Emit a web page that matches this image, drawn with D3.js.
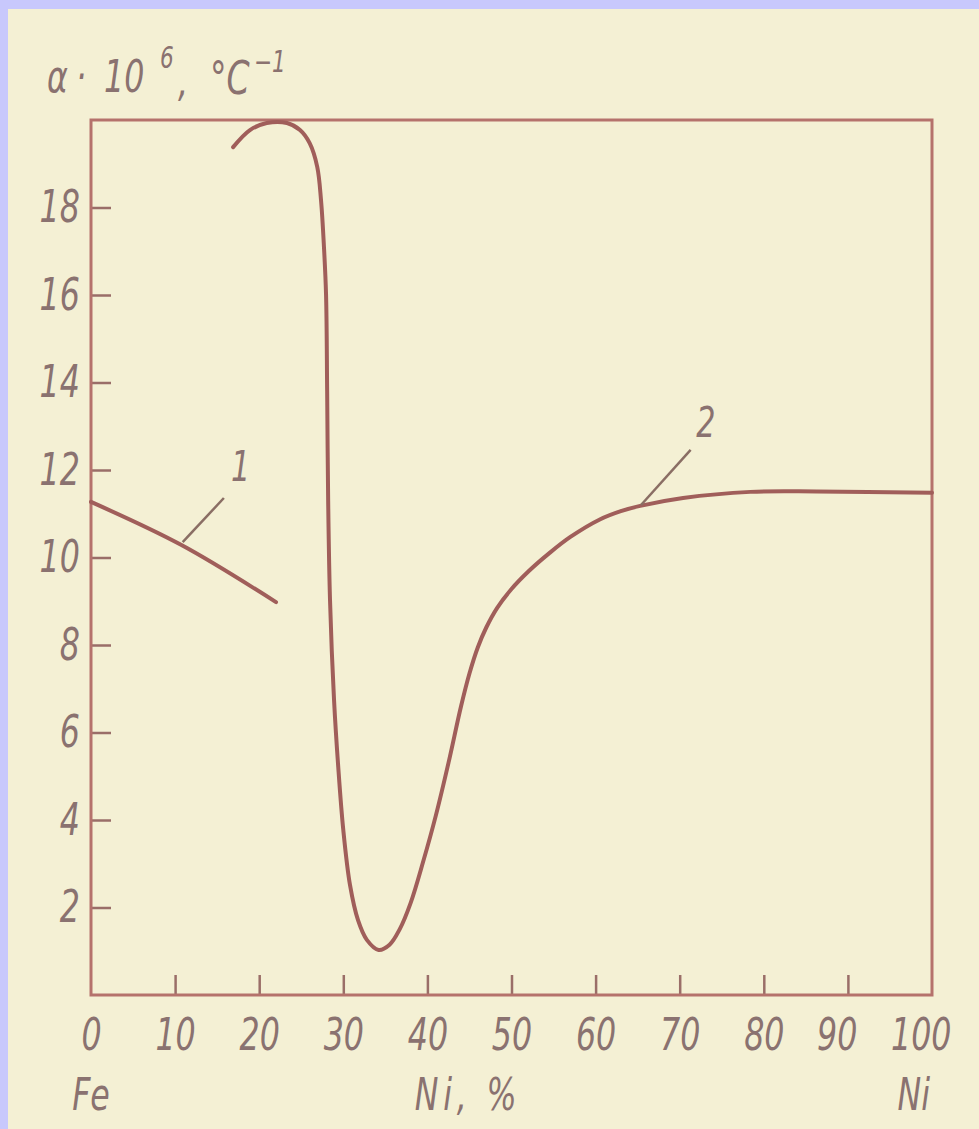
<!DOCTYPE html>
<html>
<head>
<meta charset="utf-8">
<script src="https://cdn.jsdelivr.net/npm/d3@7"></script>
<style>
  html, body { margin: 0; padding: 0; background: #c8c8fc; }
  svg { display: block; }
  .lbl { font-family: "DejaVu Sans Condensed", "DejaVu Sans", sans-serif; font-style: italic; fill: #8a7270; }
</style>
</head>
<body>
<div id="chart-area"></div>
<script>
// ---- data ----
// x: Ni content, %   y: alpha * 10^6, 1/°C
var xTicks = [0, 10, 20, 30, 40, 50, 60, 70, 80, 90, 100];
var yTicks = [2, 4, 6, 8, 10, 12, 14, 16, 18];

// curve 1
var curve1Ni    = [0, 10.7, 22];
var curve1Alpha = [11.27, 10.29, 8.98];

// curve 2 (invar minimum near 34 % Ni)
var curve2Ni    = [16.9, 18.9, 20.9, 23.3, 24.85, 26.0, 26.9, 27.35, 27.7, 27.95, 28.08, 28.2, 28.42,
                   28.9, 29.4, 30.0, 30.8, 31.75, 32.8, 34.2, 35.5, 36.7, 38.0, 39.5, 41.0, 42.5,
                   44.0, 45.0, 46.0, 47.0, 48.3, 50.0, 52.0, 54.5, 57.0, 60.5, 63.0, 65.3, 70.4,
                   78.4, 86.3, 100];
var curve2Alpha = [19.38, 19.77, 19.93, 19.93, 19.77, 19.47, 18.93, 18.17, 17.1, 16.0, 13.8, 11.3, 9.03,
                   6.74, 5.21, 3.77, 2.51, 1.71, 1.26, 1.03, 1.15, 1.5, 2.1, 3.05, 4.1, 5.3,
                   6.6, 7.35, 7.95, 8.4, 8.85, 9.28, 9.68, 10.1, 10.47, 10.87, 11.06, 11.18, 11.36,
                   11.5, 11.51, 11.48];

// curve numbers with their leader lines (data units)
var curveNames = ["1", "2"];
var leaderFrom = [[10.9, 10.35], [65.4, 11.2]];
var leaderTo   = [[15.8, 11.36], [71.3, 12.46]];
var namePos    = [[17.8, 12.1], [73.1, 13.1]];

// ---- layout ----
var svgWidth = 979, svgHeight = 1129;
var margin = { top: 120, left: 91, bottom: 134, right: 47 };
var width = svgWidth - margin.left - margin.right;
var height = svgHeight - margin.top - margin.bottom;
var narrow = "scale(0.8,1)";

var svg = d3.select("#chart-area").append("svg")
    .attr("width", svgWidth)
    .attr("height", svgHeight);

// paper
svg.append("rect")
    .attr("x", 8).attr("y", 9)
    .attr("width", svgWidth - 8).attr("height", svgHeight - 9)
    .attr("fill", "#f4f0d4");

var graph = svg.append("g")
    .attr("transform", "translate(" + margin.left + "," + margin.top + ")");

var xScale = d3.scaleLinear().domain([0, 100]).range([0, width]);
var yScale = d3.scaleLinear().domain([0, 20]).range([height, 0]);

// y axis (ticks inside)
var yAxisCall = d3.axisLeft(yScale)
    .tickValues(yTicks)
    .tickSize(-20)
    .tickPadding(14)
    .tickFormat(d => d);

var yAxis = graph.append("g").attr("class", "y-axis").call(yAxisCall);
yAxis.select(".domain").remove();
yAxis.selectAll("line").attr("stroke", "#9a6e68").attr("stroke-width", 2.5);
yAxis.selectAll("text")
    .attr("class", "lbl")
    .attr("font-size", 44)
    .attr("fill", null)
    .attr("transform", narrow);

// x axis (ticks inside)
var xAxisCall = d3.axisBottom(xScale)
    .tickValues(xTicks)
    .tickSize(-20)
    .tickPadding(24)
    .tickFormat(d => d);

var xAxis = graph.append("g")
    .attr("class", "x-axis")
    .attr("transform", "translate(0," + height + ")")
    .call(xAxisCall);
xAxis.select(".domain").remove();
xAxis.selectAll(".tick")
    .filter(d => d === 0 || d === 100)
    .select("line").remove();
xAxis.selectAll("line").attr("stroke", "#9a6e68").attr("stroke-width", 2.5);
xAxis.selectAll("text")
    .attr("class", "lbl")
    .attr("font-size", 44)
    .attr("fill", null)
    .attr("transform", narrow);
// the last two labels are crowded a little to the left in the original
xAxis.selectAll(".tick")
    .filter(d => d >= 90)
    .select("text").attr("x", -14);

// frame
graph.append("rect")
    .attr("x", 0).attr("y", 0)
    .attr("width", width).attr("height", height)
    .attr("fill", "none")
    .attr("stroke", "#b5726c")
    .attr("stroke-width", 3);

// curves
var line = d3.line()
    .x(d => xScale(d[0]))
    .y(d => yScale(d[1]))
    .curve(d3.curveCatmullRom.alpha(0.5));

var c1 = curve1Ni.map((v, i) => [v, curve1Alpha[i]]);
var c2 = curve2Ni.map((v, i) => [v, curve2Alpha[i]]);

graph.selectAll("path.curve")
    .data([c1, c2])
    .enter()
    .append("path")
    .attr("class", "curve")
    .attr("d", line)
    .attr("fill", "none")
    .attr("stroke", "#a05e5a")
    .attr("stroke-width", 4)
    .attr("stroke-linecap", "round");

// leaders and curve numbers
graph.selectAll("line.leader")
    .data(curveNames)
    .enter()
    .append("line")
    .attr("class", "leader")
    .attr("x1", (d, i) => xScale(leaderFrom[i][0]))
    .attr("y1", (d, i) => yScale(leaderFrom[i][1]))
    .attr("x2", (d, i) => xScale(leaderTo[i][0]))
    .attr("y2", (d, i) => yScale(leaderTo[i][1]))
    .attr("stroke", "#8a6e64")
    .attr("stroke-width", 2.5);

graph.selectAll("text.name")
    .data(curveNames)
    .enter()
    .append("text")
    .attr("class", "lbl name")
    .attr("transform", (d, i) => "translate(" + xScale(namePos[i][0]) + "," + yScale(namePos[i][1]) + ") " + narrow)
    .attr("dy", "0.36em")
    .attr("text-anchor", "middle")
    .attr("font-size", 42)
    .text(d => d);

// y-axis title: alpha·10^6, °C^-1 (drawn in pieces, spaced like the original lettering)
function titlePiece(txt, x, y, size) {
    svg.append("text")
        .attr("class", "lbl")
        .attr("transform", "translate(" + x + "," + y + ") " + narrow)
        .attr("font-size", size)
        .text(txt);
}
titlePiece("α", 47, 92, 44);
titlePiece("·", 76, 92, 44);
titlePiece("10", 104, 92, 44);
titlePiece("6", 160, 68, 30);
titlePiece(",", 178, 96, 44);
titlePiece("°C", 210, 94, 46);
titlePiece("−1", 254, 72, 30);

// x-axis titles
var xTitles = svg.append("g").attr("class", "lbl").attr("font-size", 44);
xTitles.append("text").attr("transform", "translate(" + margin.left + ",1110) " + narrow)
    .attr("text-anchor", "middle").text("Fe");
xTitles.append("text").attr("transform", "translate(468,1110) " + narrow)
    .attr("text-anchor", "middle").attr("letter-spacing", 6).text("Ni, %");
xTitles.append("text").attr("transform", "translate(930,1110) " + narrow)
    .attr("text-anchor", "end").text("Ni");
</script>
</body>
</html>
